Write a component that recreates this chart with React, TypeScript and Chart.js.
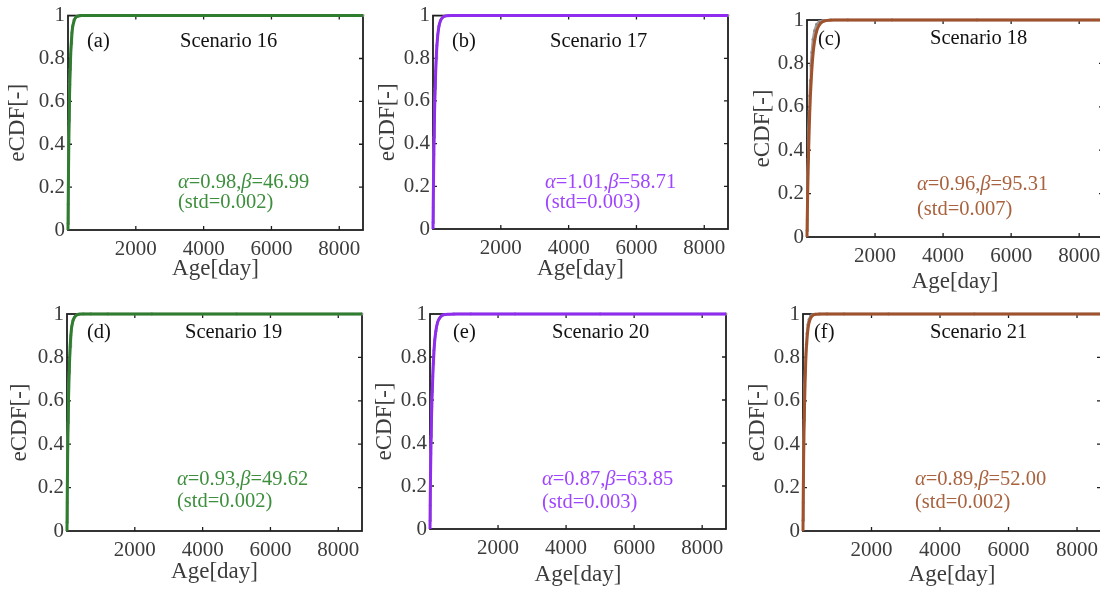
import React, { useEffect, useRef } from "react";
import { Chart, registerables } from "chart.js";
Chart.register(...registerables);

// ---------- data ----------
const fitAges = [0, 5, 10, 20, 30, 45, 60, 80, 100, 130, 170, 220, 300, 400, 550, 800, 1500, 8700];
const fit16 = [0, 0.11, 0.2, 0.35, 0.47, 0.62, 0.72, 0.82, 0.88, 0.94, 0.97, 0.99, 0.998, 1, 1, 1, 1, 1];
const fit17 = [0, 0.08, 0.16, 0.29, 0.4, 0.54, 0.64, 0.74, 0.82, 0.89, 0.945, 0.976, 0.994, 0.999, 1, 1, 1, 1];
const fit18 = [0, 0.06, 0.11, 0.2, 0.28, 0.38, 0.47, 0.57, 0.65, 0.74, 0.83, 0.9, 0.957, 0.985, 0.997, 1, 1, 1];
const fit19 = [0, 0.12, 0.21, 0.36, 0.47, 0.61, 0.71, 0.8, 0.87, 0.93, 0.965, 0.985, 0.997, 1, 1, 1, 1, 1];
const fit20 = [0, 0.1, 0.18, 0.3, 0.4, 0.52, 0.61, 0.7, 0.78, 0.86, 0.92, 0.96, 0.985, 0.997, 0.999, 1, 1, 1];
const fit21 = [0, 0.12, 0.21, 0.35, 0.46, 0.58, 0.68, 0.78, 0.85, 0.91, 0.955, 0.98, 0.995, 0.999, 1, 1, 1, 1];

const ecdfAges = [2, 6, 12, 18, 25, 33, 42, 52, 64, 78, 95, 115, 140, 175, 220, 280, 360, 480, 700, 1200, 2500, 5000, 8700];
const ecdf16 = [0.03, 0.12, 0.24, 0.33, 0.42, 0.51, 0.6, 0.68, 0.75, 0.82, 0.87, 0.92, 0.95, 0.98, 0.99, 0.997, 1, 1, 1, 1, 1, 1, 1];
const ecdf17 = [0.03, 0.1, 0.19, 0.26, 0.35, 0.43, 0.51, 0.59, 0.66, 0.74, 0.8, 0.86, 0.91, 0.95, 0.977, 0.992, 0.998, 1, 1, 1, 1, 1, 1];
const ecdf18 = [0.03, 0.08, 0.15, 0.22, 0.29, 0.36, 0.43, 0.5, 0.58, 0.65, 0.72, 0.79, 0.85, 0.91, 0.95, 0.98, 0.993, 0.998, 1, 1, 1, 1, 1];
const ecdf19 = [0.04, 0.13, 0.23, 0.32, 0.41, 0.5, 0.58, 0.66, 0.73, 0.79, 0.85, 0.9, 0.94, 0.97, 0.985, 0.995, 0.999, 1, 1, 1, 1, 1, 1];
const ecdf20 = [0.04, 0.11, 0.19, 0.27, 0.35, 0.43, 0.5, 0.57, 0.64, 0.71, 0.77, 0.83, 0.88, 0.92, 0.96, 0.98, 0.993, 0.998, 1, 1, 1, 1, 1];
const ecdf21 = [0.05, 0.13, 0.24, 0.33, 0.42, 0.51, 0.6, 0.67, 0.74, 0.8, 0.86, 0.91, 0.95, 0.975, 0.99, 0.997, 0.999, 1, 1, 1, 1, 1, 1];

const panelLetters = ["(a)", "(b)", "(c)", "(d)", "(e)", "(f)"];
const scenarios = ["Scenario 16", "Scenario 17", "Scenario 18", "Scenario 19", "Scenario 20", "Scenario 21"];
const alphas = ["0.98", "1.01", "0.96", "0.93", "0.87", "0.89"];
const betas = ["46.99", "58.71", "95.31", "49.62", "63.85", "52.00"];
const stds = ["0.002", "0.003", "0.007", "0.002", "0.003", "0.002"];
const fits = [fit16, fit17, fit18, fit19, fit20, fit21];
const ecdfs = [ecdf16, ecdf17, ecdf18, ecdf19, ecdf20, ecdf21];

const xTicks = [2000, 4000, 6000, 8000];
const yTicks = [0, 0.2, 0.4, 0.6, 0.8, 1];
const xMax = 8700;

// ---------- styles / layout ----------
const GREEN = "#2f7d2f";
const GREEN_T = "#3d8f3d";
const PURPLE = "#8f2cf0";
const PURPLE_T = "#a045ff";
const BROWN = "#a0522d";
const BROWN_T = "#a8623e";
const lineColors = [GREEN, PURPLE, BROWN, GREEN, PURPLE, BROWN];
const textColors = [GREEN_T, PURPLE_T, BROWN_T, GREEN_T, PURPLE_T, BROWN_T];

const FONT = "'Liberation Serif', 'Times New Roman', serif";
const AXIS_COL = "#1e1e1e";
const LABEL_COL = "#3c3c3c";
const TEXT_SIZE = 20.5;
const TICK_SIZE = 21;
const TITLE_SIZE = 23;

const layouts = [
  { cx: 0, cy: 0, cw: 370, ch: 290, yW: 68, xH: 60, pt: 13, pr: 7, ytp: 4, xtp: 7, let: [19, 26], sc: [112, 26], an: [110, 167], sd: [110, 187] },
  { cx: 370, cy: 0, cw: 370, ch: 290, yW: 63, xH: 61, pt: 13, pr: 12, ytp: 4, xtp: 7, let: [19, 26], sc: [117, 26], an: [112, 167], sd: [112, 187] },
  { cx: 740, cy: 0, cw: 370, ch: 300, yW: 67, xH: 63, pt: 20, pr: 7, ytp: 9, xtp: 4, let: [11, 20], sc: [123, 19], an: [110, 165], sd: [110, 190] },
  { cx: 0, cy: 290, cw: 370, ch: 301, yW: 67, xH: 60, pt: 24, pr: 8, ytp: 6, xtp: 5, let: [20, 19], sc: [118, 19], an: [110, 166], sd: [110, 188] },
  { cx: 370, cy: 290, cw: 370, ch: 301, yW: 60, xH: 62, pt: 24, pr: 14, ytp: 1, xtp: 2, let: [23, 19], sc: [122, 19], an: [112, 166], sd: [112, 189] },
  { cx: 740, cy: 290, cw: 370, ch: 301, yW: 63, xH: 60, pt: 24, pr: 9, ytp: 4, xtp: 2, let: [11, 19], sc: [127, 19], an: [112, 166], sd: [112, 189] },
];

function Panel({ idx }: { idx: number }) {
  const ref = useRef<HTMLCanvasElement | null>(null);
  const L = layouts[idx];
  useEffect(() => {
    if (!ref.current) return;
    const boxPlugin = {
      id: "boxTicks",
      beforeDatasetsDraw(chart: any) {
        const { ctx, chartArea: a, scales } = chart;
        ctx.save();
        ctx.strokeStyle = AXIS_COL;
        ctx.lineWidth = 1.8;
        ctx.strokeRect(a.left, a.top, a.right - a.left, a.bottom - a.top);
        ctx.lineWidth = 1.3;
        ctx.beginPath();
        for (const v of xTicks) {
          const px = scales.x.getPixelForValue(v);
          ctx.moveTo(px, a.bottom);
          ctx.lineTo(px, a.bottom - 4);
          ctx.moveTo(px, a.top);
          ctx.lineTo(px, a.top + 4);
        }
        for (const v of yTicks.slice(1, -1)) {
          const py = scales.y.getPixelForValue(v);
          ctx.moveTo(a.left, py);
          ctx.lineTo(a.left + 4, py);
          ctx.moveTo(a.right, py);
          ctx.lineTo(a.right - 4, py);
        }
        ctx.stroke();
        ctx.restore();
      },
    };
    const textPlugin = {
      id: "panelTexts",
      afterDraw(chart: any) {
        const { ctx, chartArea: a } = chart;
        ctx.save();
        ctx.textBaseline = "middle";
        ctx.textAlign = "left";
        ctx.font = `${TEXT_SIZE}px ${FONT}`;
        ctx.fillStyle = "#111";
        ctx.fillText(panelLetters[idx], a.left + L.let[0], a.top + L.let[1]);
        ctx.fillText(scenarios[idx], a.left + L.sc[0], a.top + L.sc[1]);
        ctx.fillStyle = textColors[idx];
        const parts: [string, boolean][] = [
          ["α", true],
          ["=" + alphas[idx] + ",", false],
          ["β", true],
          ["=" + betas[idx], false],
        ];
        let x = a.left + L.an[0];
        const y = a.top + L.an[1];
        for (const [t, it] of parts) {
          ctx.font = `${it ? "italic " : ""}${TEXT_SIZE}px ${FONT}`;
          ctx.fillText(t, x, y);
          x += ctx.measureText(t).width;
        }
        ctx.font = `${TEXT_SIZE}px ${FONT}`;
        ctx.fillText("(std=" + stds[idx] + ")", a.left + L.sd[0], a.top + L.sd[1]);
        ctx.restore();
      },
    };
    const chart = new Chart(ref.current, {
      type: "line",
      data: {
        datasets: [
          {
            label: "fit",
            data: fitAges.map((a, i) => ({ x: a, y: fits[idx][i] })),
            borderColor: lineColors[idx],
            borderWidth: 3,
            pointRadius: 0,
            cubicInterpolationMode: "monotone",
            clip: 6,
            order: 1,
          },
          {
            label: "eCDF",
            data: ecdfAges.map((a, i) => ({ x: a, y: ecdfs[idx][i] })),
            borderColor: "#a0a0a0",
            backgroundColor: "#8a8a8a",
            borderWidth: 2.5,
            pointRadius: 1.4,
            pointBorderWidth: 0,
            clip: 6,
            order: 2,
          },
        ],
      } as any,
      options: {
        animation: false,
        responsive: true,
        maintainAspectRatio: false,
        layout: { padding: { top: L.pt, right: L.pr, left: 0, bottom: 0 } },
        plugins: { legend: { display: false }, tooltip: { enabled: false } },
        scales: {
          x: {
            type: "linear",
            min: 0,
            max: xMax,
            afterBuildTicks: (s: any) => {
              s.ticks = xTicks.map((v) => ({ value: v }));
            },
            afterFit: (s: any) => {
              s.height = L.xH;
            },
            grid: { display: false, drawTicks: false },
            border: { display: false },
            ticks: {
              autoSkip: false,
              maxRotation: 0,
              padding: 7,
              color: LABEL_COL,
              font: { family: FONT, size: TICK_SIZE },
              callback: (v: any) => String(v),
            },
            title: {
              display: true,
              text: "Age[day]",
              color: LABEL_COL,
              font: { family: FONT, size: TITLE_SIZE, lineHeight: 1.2 },
              padding: { top: 0, bottom: L.xtp },
            },
          },
          y: {
            type: "linear",
            min: 0,
            max: 1,
            afterBuildTicks: (s: any) => {
              s.ticks = yTicks.map((v) => ({ value: v }));
            },
            afterFit: (s: any) => {
              s.width = L.yW;
            },
            grid: { display: false, drawTicks: false },
            border: { display: false },
            ticks: {
              padding: 3,
              color: LABEL_COL,
              font: { family: FONT, size: TICK_SIZE },
              callback: (v: any) => String(v),
            },
            title: {
              display: true,
              text: "eCDF[-]",
              color: LABEL_COL,
              font: { family: FONT, size: TITLE_SIZE, lineHeight: 1.2 },
              padding: { top: L.ytp, bottom: 0 },
            },
          },
        },
      } as any,
      plugins: [boxPlugin, textPlugin],
    });
    return () => chart.destroy();
  }, []);
  return (
    <div style={{ position: "absolute", left: L.cx, top: L.cy, width: L.cw, height: L.ch }}>
      <canvas ref={ref} />
    </div>
  );
}

export default function App() {
  return (
    <div
      style={{
        position: "fixed",
        left: 0,
        top: 0,
        width: 1100,
        height: 591,
        overflow: "hidden",
        background: "#fff",
      }}
    >
      {layouts.map((_, i) => (
        <Panel key={i} idx={i} />
      ))}
    </div>
  );
}
